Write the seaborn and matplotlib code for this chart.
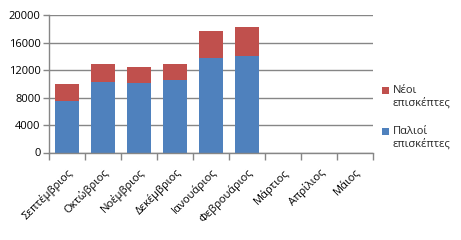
import matplotlib
matplotlib.use("Agg")
import matplotlib.pyplot as plt
import seaborn as sns
import pandas as pd
import numpy as np
from matplotlib.patches import Patch, Rectangle
from matplotlib.legend_handler import HandlerPatch

months = ["Σεπτέμβριος", "Οκτώβριος", "Νοέμβριος", "Δεκέμβριος", "Ιανουάριος",
          "Φεβρουάριος", "Μάρτιος", "Απρίλιος", "Μάιος"]
old_visitors = [7500, 10300, 10100, 10600, 13800, 14100, 0, 0, 0]
new_visitors = [2500, 2650, 2400, 2350, 3900, 4200, 0, 0, 0]
yticks = [0, 4000, 8000, 12000, 16000, 20000]

sns.set_theme(style="white")
plt.rcParams['font.family'] = ['Open Sans', 'DejaVu Sans']

blue = "#4F81BD"
red = "#C0504D"
grid_c = "#868686"
fs = 8

df = pd.DataFrame({"month": months, "old": old_visitors, "new": new_visitors})
df["total"] = df["old"] + df["new"]

fig = plt.figure(figsize=(4.61, 2.40), dpi=100)
ax = fig.add_axes([49/461, 1 - 152.5/240, (373-49)/461, (152.5-15.3)/240])

sns.barplot(data=df, x="month", y="total", color=red, width=0.64, ax=ax,
            saturation=1, order=months, edgecolor="none", linewidth=0, zorder=2)
sns.barplot(data=df, x="month", y="old", color=blue, width=0.64, ax=ax,
            saturation=1, order=months, edgecolor="none", linewidth=0, zorder=3)

ax.set_xlim(-0.5, len(months) - 0.5)
ax.set_ylim(0, 20000)
ax.set_yticks(yticks)
ax.set_yticklabels([str(v) for v in yticks], fontsize=fs, color="black")
ax.set_xlabel("")
ax.set_ylabel("")
ax.yaxis.grid(True, color=grid_c, linewidth=1, zorder=0)
ax.set_axisbelow(True)

for s in ["top", "right"]:
    ax.spines[s].set_visible(False)
for s in ["left", "bottom"]:
    ax.spines[s].set_color(grid_c)
    ax.spines[s].set_linewidth(1)
    ax.spines[s].set_zorder(4)

ax.set_xticks(range(len(months)))
ax.set_xticklabels(months, rotation=45, ha="right", rotation_mode="anchor",
                   fontsize=fs, color="black")
ax.tick_params(axis="x", which="major", length=0, pad=10)
ax.set_xticks(np.arange(-0.5, len(months), 1), minor=True)
ax.tick_params(axis="x", which="minor", length=5, color=grid_c, width=1, direction="out", bottom=True)
ax.tick_params(axis="y", length=4, color=grid_c, width=1, left=True, pad=2)


def top_patch(legend, orig_handle, xdescent, ydescent, width, height, fontsize):
    shift = 0.6 * fontsize
    return Rectangle((-xdescent, -ydescent + shift), width, height)


handles = [Patch(facecolor=red, edgecolor="none", label="Νέοι\nεπισκέπτες"),
           Patch(facecolor=blue, edgecolor="none", label="Παλιοί\nεπισκέπτες")]
leg = fig.legend(handles=handles, loc="upper left", bbox_to_anchor=(382/461, 1 - 85/240),
                 frameon=False, fontsize=fs, handlelength=0.6, handleheight=0.6,
                 handletextpad=0.35, labelspacing=1.55, borderaxespad=0, borderpad=0,
                 handler_map={Patch: HandlerPatch(patch_func=top_patch)})

fig.savefig("out.png", dpi=100)
